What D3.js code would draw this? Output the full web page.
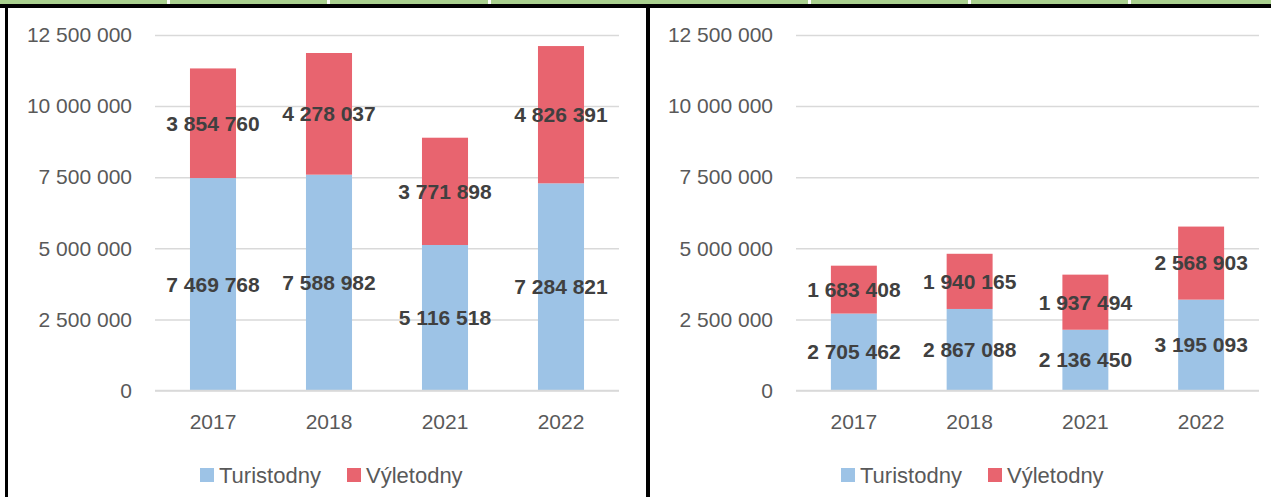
<!DOCTYPE html>
<html>
<head>
<meta charset="utf-8">
<script src="https://cdn.jsdelivr.net/npm/d3@7"></script>
<style>
  body { margin: 0; background: #fff; }
  svg { display: block; font-family: "Liberation Sans", Arial, sans-serif; }
  .tick line { stroke: #d9d9d9; stroke-width: 1.5; }
  .domain { display: none; }
</style>
</head>
<body>
<div id="chart"></div>
<script>
// Daten
const years = ["2017", "2018", "2021", "2022"];
const seriesNames = ["Turistodny", "Výletodny"];
const seriesColors = ["#9dc3e6", "#e8646f"];

const leftTuristodny = [7469768, 7588982, 5116518, 7284821];
const leftVyletodny = [3854760, 4278037, 3771898, 4826391];
const rightTuristodny = [2705462, 2867088, 2136450, 3195093];
const rightVyletodny = [1683408, 1940165, 1937494, 2568903];

const yTicks = [0, 2500000, 5000000, 7500000, 10000000, 12500000];

const width = 1271, height = 497;

const locale = d3.formatLocale({ decimal: ",", thousands: " ", grouping: [3], currency: ["", ""] });
const fmt = locale.format(",d");

const svg = d3.select("#chart")
  .append("svg")
  .attr("width", width)
  .attr("height", height);

// Tabellen-Rahmen oben (grüner Kopf + schwarze Linien)
svg.append("rect").attr("x", 0).attr("y", 0).attr("width", width).attr("height", 4).attr("fill", "#a9d08e");
[167, 327, 488, 808, 968, 1128].forEach(x => {
  svg.append("rect").attr("x", x).attr("y", 0).attr("width", 3).attr("height", 4).attr("fill", "#fff");
});
svg.append("rect").attr("x", 0).attr("y", 4).attr("width", width).attr("height", 4).attr("fill", "#000");
svg.append("rect").attr("x", 5).attr("y", 4).attr("width", 3).attr("height", height).attr("fill", "#000");
svg.append("rect").attr("x", 646).attr("y", 4).attr("width", 4).attr("height", height).attr("fill", "#000");

const drawChart = (x0, x1, turistodny, vyletodny) => {
  const data = years.map((y, i) => ({ year: y, Turistodny: turistodny[i], "Výletodny": vyletodny[i] }));
  const stacked = d3.stack().keys(seriesNames)(data);

  const xScale = d3.scaleBand()
    .domain(years)
    .range([x0, x1])
    .paddingInner(0.603)
    .paddingOuter(0.3015);

  const yScale = d3.scaleLinear()
    .domain([0, 12500000])
    .range([390.5, 35]);

  const g = svg.append("g");

  // Gitterlinien + Y-Achse
  const leftAxis = d3.axisLeft(yScale)
    .tickValues(yTicks)
    .tickFormat(fmt)
    .tickSize(-(x1 - x0))
    .tickPadding(23);
  g.append("g")
    .attr("transform", `translate(${x0},0)`)
    .call(leftAxis)
    .call(a => a.selectAll("text")
      .attr("fill", "#595959")
      .style("font-size", "21px"));

  // Balken
  g.append("g")
    .selectAll("g")
    .data(stacked)
    .join("g")
    .attr("fill", (d, i) => seriesColors[i])
    .selectAll("rect")
    .data(d => d)
    .join("rect")
    .attr("x", d => xScale(d.data.year))
    .attr("width", xScale.bandwidth())
    .attr("y", d => yScale(d[1]))
    .attr("height", d => yScale(d[0]) - yScale(d[1]));

  // Datenbeschriftungen
  g.append("g")
    .selectAll("g")
    .data(stacked)
    .join("g")
    .selectAll("text")
    .data(d => d)
    .join("text")
    .attr("x", d => xScale(d.data.year) + xScale.bandwidth() / 2)
    .attr("y", d => yScale((d[0] + d[1]) / 2))
    .attr("dy", "0.35em")
    .attr("text-anchor", "middle")
    .attr("fill", "#404040")
    .style("font-size", "21px")
    .style("font-weight", "bold")
    .text(d => fmt(d[1] - d[0]));

  // X-Achse
  g.append("line")
    .attr("x1", x0).attr("x2", x1)
    .attr("y1", yScale(0)).attr("y2", yScale(0))
    .attr("stroke", "#d9d9d9")
    .attr("stroke-width", 1.5);

  const bottomAxis = d3.axisBottom(xScale).tickSize(0).tickPadding(0);
  g.append("g")
    .attr("transform", `translate(0,${yScale(0)})`)
    .call(bottomAxis)
    .call(a => a.selectAll("text")
      .attr("y", 31)
      .attr("dy", "0.35em")
      .attr("fill", "#595959")
      .style("font-size", "21px"));

  // Legende
  const legendX = [x0 + 45, x0 + 192];
  const legend = g.append("g")
    .selectAll("g")
    .data(seriesNames)
    .join("g")
    .attr("transform", (d, i) => `translate(${legendX[i]},468)`);
  legend.append("rect")
    .attr("width", 14).attr("height", 14)
    .attr("fill", (d, i) => seriesColors[i]);
  legend.append("text")
    .attr("x", 19).attr("y", 7).attr("dy", "0.35em")
    .attr("fill", "#595959")
    .style("font-size", "22px")
    .text(d => d);
};

drawChart(155, 619, leftTuristodny, leftVyletodny);
drawChart(796, 1259, rightTuristodny, rightVyletodny);
</script>
</body>
</html>
